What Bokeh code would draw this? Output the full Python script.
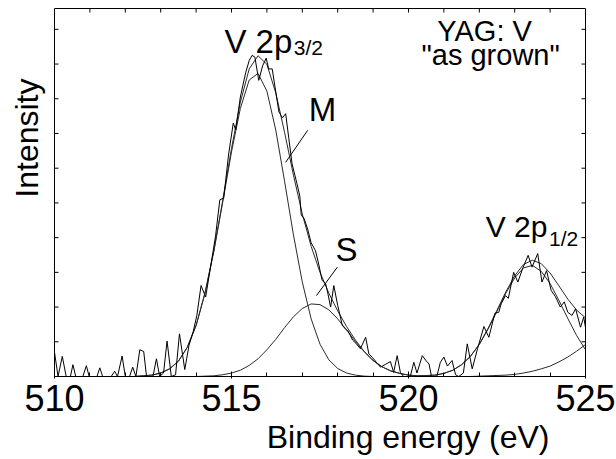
from bokeh.plotting import figure
from bokeh.models import Range1d, LinearAxis, SingleIntervalTicker, Title
from bokeh.embed import file_html
from bokeh.resources import INLINE
from bokeh.core.properties import value

# ---------------- data ----------------
# measured spectrum (binding energy in eV, intensity in arb. units)
spec_energy = [510.00, 510.10, 510.22, 510.33, 510.45, 510.52, 510.60, 510.80, 510.90, 510.98,
               511.20, 511.28, 511.36, 511.60, 511.70, 511.78, 511.91, 512.00, 512.12, 512.21,
               512.30, 512.41, 512.52, 512.60, 512.78, 512.88, 512.97, 513.08, 513.18, 513.30,
               513.42, 513.53, 513.68, 513.80, 513.92, 514.02, 514.14, 514.27, 514.40, 514.55,
               514.67, 514.78, 514.92, 515.05, 515.12, 515.25, 515.40, 515.50, 515.58, 515.66,
               515.77, 515.88, 515.98, 516.05, 516.15, 516.25, 516.34, 516.44, 516.53, 516.62,
               516.71, 516.85, 516.93, 516.97, 517.05, 517.15, 517.25, 517.37, 517.45, 517.56,
               517.66, 517.72, 517.80, 517.89, 518.00, 518.13, 518.22, 518.30, 518.42, 518.52,
               518.64, 518.79, 518.88, 518.98, 519.10, 519.21, 519.35, 519.49, 519.58, 519.68,
               519.77, 519.86, 520.05, 520.15, 520.24, 520.39, 520.50, 520.58, 520.65, 520.80,
               520.90, 521.00, 521.10, 521.23, 521.33, 521.42, 521.55, 521.66, 521.80, 521.95,
               522.13, 522.27, 522.44, 522.55, 522.62, 522.74, 522.82, 522.97, 523.09, 523.22,
               523.38, 523.49, 523.65, 523.77, 523.90, 524.03, 524.15, 524.29, 524.40, 524.50,
               524.62, 524.72, 524.86, 524.95, 525.00]
spec_intensity = [0.70, 0.00, 0.58, 0.00, 0.00, 0.34, 0.00, 0.00, 0.31, 0.00,
                  0.00, 0.25, 0.00, 0.00, 0.15, 0.00, 0.59, 0.00, 0.00, 0.27,
                  0.00, 0.77, 0.72, 0.00, 0.00, 0.51, 0.00, 0.10, 1.02, 0.00,
                  0.05, 1.23, 0.20, 0.90, 1.30, 1.75, 2.62, 2.29, 3.10, 4.05,
                  5.09, 5.14, 6.41, 7.30, 7.10, 8.05, 8.75, 9.10, 9.25, 9.20,
                  8.53, 8.95, 9.17, 8.86, 8.86, 8.20, 7.62, 7.45, 7.57, 6.85,
                  6.13, 5.55, 5.20, 4.65, 4.55, 4.25, 3.85, 3.63, 3.30, 2.77,
                  2.67, 2.40, 2.00, 2.62, 2.05, 1.47, 1.37, 1.30, 1.05, 0.95,
                  0.80, 1.13, 0.65, 0.55, 0.40, 0.27, 0.35, 0.43, 0.12, 0.60,
                  0.12, 0.00, 0.00, 0.41, 0.10, 0.60, 0.45, 0.36, 0.00, 0.00,
                  0.41, 0.56, 0.30, 0.46, 0.05, 0.00, 0.10, 0.94, 0.22, 0.80,
                  1.44, 1.13, 1.82, 1.85, 2.10, 2.33, 2.25, 3.00, 2.72, 3.10,
                  3.49, 3.15, 3.54, 2.72, 3.05, 2.48, 2.30, 2.00, 2.15, 1.85,
                  1.76, 1.95, 1.42, 1.71, 1.41]

# fitted components, read on a 0.25 eV grid
fit_energy = [510.00, 510.25, 510.50, 510.75, 511.00, 511.25, 511.50, 511.75, 512.00, 512.25,
              512.50, 512.75, 513.00, 513.25, 513.50, 513.75, 514.00, 514.25, 514.50, 514.75,
              515.00, 515.25, 515.50, 515.75, 516.00, 516.25, 516.50, 516.75, 517.00, 517.25,
              517.50, 517.75, 518.00, 518.25, 518.50, 518.75, 519.00, 519.25, 519.50, 519.75,
              520.00, 520.25, 520.50, 520.75, 521.00, 521.25, 521.50, 521.75, 522.00, 522.25,
              522.50, 522.75, 523.00, 523.25, 523.50, 523.75, 524.00, 524.25, 524.50, 524.75,
              525.00]
fit_M = [0.0] * 10 + [0.02, 0.04, 0.10, 0.22, 0.44, 0.84, 1.47, 2.39, 3.60, 5.01,
                      6.47, 7.72, 8.54, 8.73, 8.22, 7.10, 5.62, 4.08, 2.72, 1.66,
                      0.93, 0.48, 0.23, 0.10, 0.04, 0.01] + [0.0] * 25
fit_S = [0.0] * 16 + [0.00, 0.01, 0.02, 0.05, 0.10, 0.18, 0.32, 0.51, 0.77, 1.07,
                      1.41, 1.72, 1.96, 2.09, 2.07, 1.92, 1.66, 1.34, 1.01, 0.71,
                      0.46, 0.28, 0.16, 0.09, 0.04, 0.02, 0.01] + [0.0] * 18
fit_p12 = [0.0] * 42 + [0.02, 0.04, 0.09, 0.18, 0.34, 0.58, 0.92, 1.37, 1.88, 2.40,
                        2.84, 3.13, 3.20, 3.03, 2.68, 2.19, 1.67, 1.18, 0.77]
fit_tail = [0.0] * 48 + [0.01, 0.02, 0.03, 0.04, 0.06, 0.10, 0.15, 0.22, 0.30, 0.42,
                         0.56, 0.73, 0.92]
fit_sum = [a + b + c + d for a, b, c, d in zip(fit_M, fit_S, fit_p12, fit_tail)]

# tick positions for the frame's inward ticks
x_ticks_top = [511, 512, 513, 514, 515, 516, 517, 518, 519, 520, 521, 522, 523, 524]
y_ticks = [1, 2, 3, 4, 5, 6, 7, 8, 9, 10]

# annotation placements (data coordinates)
big_labels = ["V 2p", "M", "S"]
big_label_x = [514.80, 517.18, 517.94]
big_label_y = [9.66, 7.70, 3.66]
p12_label_x = [522.18]
p12_label_y = [4.33]
sub_labels = ["3/2", "1/2"]
sub_label_x = [516.76, 523.97]
sub_label_y = [9.48, 3.98]
sample_labels = ["YAG: V", "\"as grown\""]
sample_label_x = [522.15, 522.32]
sample_label_y = [9.95, 9.25]
pointer_x0 = [517.15, 517.99]
pointer_y0 = [7.09, 3.15]
pointer_x1 = [516.53, 517.40]
pointer_y1 = [6.17, 2.33]

FONT = "Liberation Sans"
X_MIN, X_MAX, Y_MIN, Y_MAX = 510, 525, 0, 10.6

p = figure(width=616, height=459, output_backend="svg", toolbar_location=None,
           x_range=Range1d(X_MIN, X_MAX), y_range=Range1d(Y_MIN, Y_MAX),
           x_axis_location=None, y_axis_location=None,
           min_border_left=54, min_border_right=31, min_border_top=8, min_border_bottom=83)
p.grid.grid_line_color = None
p.outline_line_color = "black"
p.outline_line_width = 1
p.background_fill_color = "white"
p.border_fill_color = "white"

# bottom axis
xb = LinearAxis(ticker=SingleIntervalTicker(interval=5, num_minor_ticks=5))
xb.major_tick_in = 5
xb.major_tick_out = 2
xb.minor_tick_in = 4
xb.minor_tick_out = 0
xb.major_label_text_font = FONT
xb.major_label_text_font_size = "36px"
xb.major_label_text_color = "black"
xb.major_label_standoff = 6
xb.axis_line_color = "black"
p.add_layout(xb, "below")

# axis titles
p.add_layout(Title(text="Binding energy (eV)", align="right", offset=36, text_font=FONT,
                   text_font_size="32px", text_font_style="normal", standoff=7,
                   text_color="black"), "below")
p.add_layout(Title(text="Intensity", align="right", offset=70, vertical_align="top",
                   text_font=FONT, text_font_size="32px", text_font_style="normal",
                   standoff=16, text_color="black"), "left")

# inward ticks on top, left and right edges of the frame
p.scatter(x=x_ticks_top, y=[Y_MAX] * len(x_ticks_top), marker="dash", size=8, angle=1.5708,
          line_color="black", line_width=1)
p.scatter(x=[X_MIN] * len(y_ticks), y=y_ticks, marker="dash", size=8,
          line_color="black", line_width=1)
p.scatter(x=[X_MAX] * len(y_ticks), y=y_ticks, marker="dash", size=8,
          line_color="black", line_width=1)

# fitted curves
for comp in (fit_M, fit_S, fit_p12, fit_tail, fit_sum):
    p.line(fit_energy, comp, line_color="#2a2a2a", line_width=1)

# measured spectrum
p.line(spec_energy, spec_intensity, line_color="black", line_width=1)

# pointers
p.segment(x0=pointer_x0, y0=pointer_y0, x1=pointer_x1, y1=pointer_y1,
          line_color="black", line_width=1)

# labels
p.text(x=big_label_x, y=big_label_y, text=big_labels, text_font=value(FONT),
       text_font_size="33px", text_align="left", text_baseline="alphabetic",
       text_color="black")
p.text(x=p12_label_x, y=p12_label_y, text=["V 2p"], text_font=value(FONT),
       text_font_size="30px", text_align="left", text_baseline="alphabetic",
       text_color="black")
p.text(x=sub_label_x, y=sub_label_y, text=sub_labels, text_font=value(FONT),
       text_font_size="21px", text_align="left", text_baseline="alphabetic",
       text_color="black")
p.text(x=sample_label_x, y=sample_label_y, text=sample_labels,
       text_font=value(FONT), text_font_size="29px", text_align="center",
       text_baseline="alphabetic", text_color="black")

open("out.html", "w").write(file_html(p, INLINE))
